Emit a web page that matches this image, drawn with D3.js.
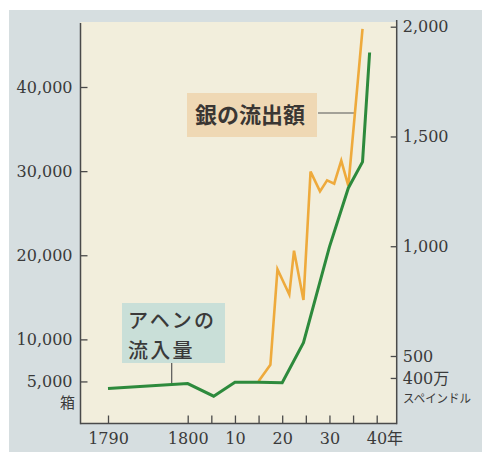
<!DOCTYPE html>
<html><head><meta charset="utf-8">
<script src="https://cdn.jsdelivr.net/npm/d3@7"></script>
<style>
html,body{margin:0;padding:0;background:#fff;}
svg{display:block;}
</style></head>
<body>
<svg id="chart" width="482" height="452"></svg>
<script>
// ---- data ----
const opiumYears  = [1790, 1800, 1805.5, 1810, 1815, 1820, 1824.5, 1830, 1834, 1837, 1838.5];
const opiumChests = [4150, 4750, 3250, 4900, 4900, 4850, 9600, 21000, 28000, 31100, 44100];
const silverYears  = [1815, 1817.5, 1819, 1821.5, 1822.5, 1824.5, 1826, 1828, 1829.5, 1831, 1832.5, 1834, 1837];
const silverValues = [385, 460, 895, 780, 980, 755, 1340, 1250, 1300, 1285, 1390, 1275, 1990];
const xTicks = [1790, 1800, 1805, 1810, 1815, 1820, 1825, 1830, 1835, 1840];
const xTickLabels = ["1790", "1800", "", "10", "", "20", "", "30", "", "40年"];
const leftTicks = [40000, 30000, 20000, 10000, 5000];
const rightTicks = [2000, 1500, 1000, 500, 400];
const leftUnit = "箱";
const rightUnit = "スペインドル";
const silverLabel = "銀の流出額";
const opiumLabel = ["アヘンの", "流入量"];

const svg = d3.select("#chart");
const NUM = "'DejaVu Serif', 'Liberation Serif', serif";
const JP = "'Noto Sans CJK JP', sans-serif";
const TXT = "#3a3a3a";

// frame geometry
const L = 80.5, R = 396.7, B = 423.5, T = 22;

const x = d3.scaleLinear().domain([1790, 1800, 1840]).range([108, 187.7, 376.7]);
const yL = d3.scaleLinear().domain([0, 40000]).range([B, 87]);
const yR = d3.scaleLinear().domain([500, 2000]).range([356, 26.7]);

// backgrounds
svg.append("rect").attr("x", 9).attr("y", 10).attr("width", 473).attr("height", 442).attr("fill", "#d6dee0");
svg.append("rect").attr("x", L).attr("y", T).attr("width", R - L).attr("height", B - T).attr("fill", "#f2eedc");

// axes
const gL = svg.append("g").attr("transform", `translate(${L},0)`)
  .call(d3.axisLeft(yL).tickValues(leftTicks).tickSize(-7).tickSizeOuter(0).tickPadding(8).tickFormat(d3.format(",")));
const gR = svg.append("g").attr("transform", `translate(${R},0)`)
  .call(d3.axisRight(yR).tickValues(rightTicks).tickSize(-6).tickSizeOuter(0).tickPadding(6)
    .tickFormat(v => v === 400 ? "400万" : d3.format(",")(v)));
const gB = svg.append("g").attr("transform", `translate(0,${B})`)
  .call(d3.axisBottom(x).tickValues(xTicks).tickSize(-8).tickSizeOuter(0).tickPadding(9)
    .tickFormat((v, i) => xTickLabels[i]));

[gL, gR, gB].forEach(g => {
  g.select(".domain").remove();
  g.selectAll(".tick line").attr("stroke", "#4a4a4a").attr("stroke-width", 1.3);
  g.selectAll(".tick text").attr("fill", TXT).attr("font-family", NUM).attr("font-size", 16);
});
gB.selectAll(".tick text").filter((d) => d === 1840)
  .attr("text-anchor", "start").attr("x", -10.5)
  .text(null).call(t => {
    t.append("tspan").text("40");
    t.append("tspan").attr("font-family", JP).attr("font-size", 16).text("年");
  });
gR.selectAll(".tick text").filter(d => d === 400)
  .text(null).call(t => {
    t.append("tspan").text("400");
    t.append("tspan").attr("font-family", JP).attr("font-size", 16).text("万");
  });

// frame lines
const frame = svg.append("g").attr("stroke", "#4a4a4a").attr("stroke-width", 1.5).attr("fill", "none");
frame.append("line").attr("x1", L).attr("x2", L).attr("y1", T + 1).attr("y2", B + 0.7);
frame.append("line").attr("x1", L).attr("x2", R).attr("y1", B).attr("y2", B);
frame.append("line").attr("x1", R).attr("x2", R).attr("y1", 20).attr("y2", B + 0.7);

// unit labels
svg.append("text").attr("x", 75).attr("y", 403).attr("dy", "0.35em").attr("text-anchor", "end")
  .attr("font-family", JP).attr("font-size", 15).attr("fill", TXT).text(leftUnit);
svg.append("text").attr("x", 403).attr("y", 399).attr("dy", "0.35em")
  .attr("font-family", JP).attr("font-size", 12).attr("fill", TXT)
  .attr("textLength", 68).attr("lengthAdjust", "spacingAndGlyphs").text(rightUnit);

// helper: interpolate series value at a year
function interp(xs, ys, yr) {
  for (let i = 0; i < xs.length - 1; i++) {
    if (yr >= xs[i] && yr <= xs[i + 1]) {
      const t = (yr - xs[i]) / (xs[i + 1] - xs[i]);
      return ys[i] + t * (ys[i + 1] - ys[i]);
    }
  }
  return ys[ys.length - 1];
}

// annotation boxes (behind lines)
const silverBox = {x: 187, y: 93, w: 130, h: 44};
svg.append("rect").attr("x", silverBox.x).attr("y", silverBox.y).attr("width", silverBox.w).attr("height", silverBox.h)
  .attr("fill", "#efd8b4");
svg.append("text").attr("x", silverBox.x + silverBox.w / 2 - 2).attr("y", silverBox.y + silverBox.h / 2).attr("dy", "0.36em")
  .attr("text-anchor", "middle").attr("font-family", JP).attr("font-weight", 700).attr("font-size", 22)
  .attr("fill", "#3a3633").text(silverLabel);

const opiumBox = {x: 122, y: 303, w: 103, h: 60};
svg.append("rect").attr("x", opiumBox.x).attr("y", opiumBox.y).attr("width", opiumBox.w).attr("height", opiumBox.h)
  .attr("fill", "#c9dfd8");
opiumLabel.forEach((s, i) => {
  svg.append("text").attr("x", opiumBox.x + 6).attr("y", opiumBox.y + 18 + i * 30).attr("dy", "0.36em")
    .attr("font-family", JP).attr("font-weight", 500).attr("font-size", 20).attr("fill", "#3a3a3a")
    .attr("textLength", s.length * 21.5).attr("lengthAdjust", "spacing").text(s);
});

// leader lines
const leaderY = silverBox.y + silverBox.h / 2 - 2;
let lx = R;
for (let i = silverYears.length - 2; i >= 0; i--) {
  const y0 = yR(silverValues[i]), y1 = yR(silverValues[i + 1]);
  if ((leaderY - y0) * (leaderY - y1) <= 0) {
    const t = (leaderY - y0) / (y1 - y0);
    lx = x(silverYears[i]) + t * (x(silverYears[i + 1]) - x(silverYears[i]));
    break;
  }
}
svg.append("line").attr("x1", silverBox.x + silverBox.w + 1).attr("x2", lx).attr("y1", leaderY).attr("y2", leaderY)
  .attr("stroke", "#555").attr("stroke-width", 1.2);
const oxYear = x.invert(171.7);
svg.append("line").attr("x1", x(oxYear)).attr("x2", x(oxYear))
  .attr("y1", opiumBox.y + opiumBox.h).attr("y2", yL(interp(opiumYears, opiumChests, oxYear)))
  .attr("stroke", "#555").attr("stroke-width", 1.2);

// lines
const silverLine = d3.line().x((d, i) => x(silverYears[i])).y(d => yR(d));
const opiumLine = d3.line().x((d, i) => x(opiumYears[i])).y(d => yL(d));
svg.append("path").datum(silverValues).attr("d", silverLine).attr("fill", "none")
  .attr("stroke", "#eeaa3c").attr("stroke-width", 2.6).attr("stroke-linejoin", "miter");
svg.append("path").datum(opiumChests).attr("d", opiumLine).attr("fill", "none")
  .attr("stroke", "#2d8a3c").attr("stroke-width", 3).attr("stroke-linejoin", "miter");
</script>
</body></html>
